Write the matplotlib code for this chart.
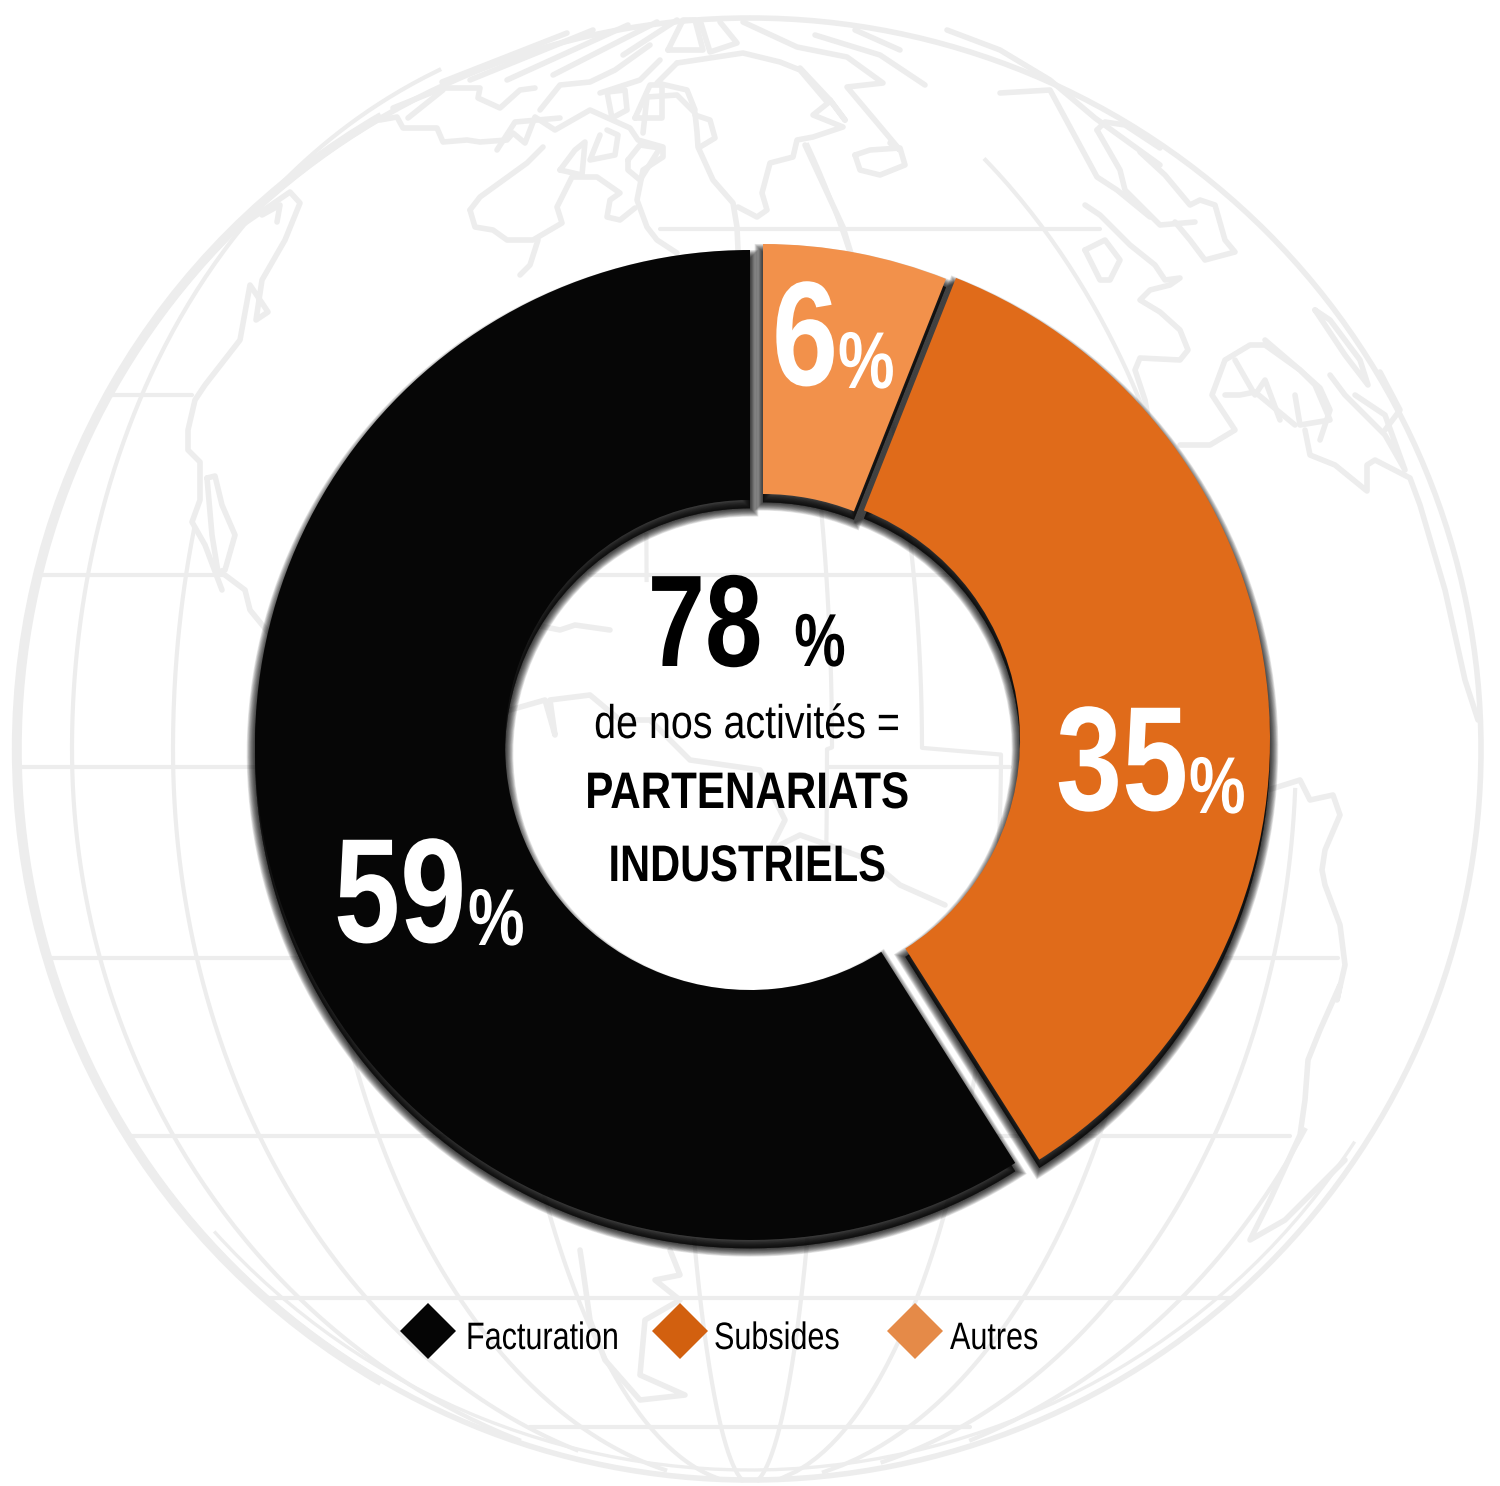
#!/usr/bin/python
import numpy as np
import matplotlib
matplotlib.use('Agg')
import matplotlib.pyplot as plt
import matplotlib.patheffects as pe
from matplotlib.patches import Circle, Arc
from matplotlib.transforms import Affine2D, Bbox

# donut data, clockwise from the top
slices = ['Autres', 'Subsides', 'Facturation']
shares = [6, 35, 59]
slice_colors = ['#F2914B', '#E06B1A', '#060606']
# each slice sits on its own centre, pixel coords
slice_centres = [(763, 741), (773, 740), (750, 745)]
slice_radii = [497, 497, 495]
slice_widths = [250, 250, 250]

legend_names = ['Facturation', 'Subsides', 'Autres']
legend_colors = ['#050505', '#D2600F', '#E58A48']
legend_marker_x = [428, 680, 915]
legend_text_x = [466, 714, 950]

headline = 78
sub_line = 'de nos activités ='
title_lines = ['PARTENARIATS', 'INDUSTRIELS']

GLOBE = '#EDEDED'
FONT = 'Liberation Sans'
W, H = 1500, 1486

# globe graticule: (y, x from, x to)
parallels = [
    (229, 660, 1100), (395, 110, 192), (575, 42, 225), (575, 590, 950),
    (767, 22, 255), (767, 830, 1010), (958, 50, 300), (958, 1225, 1338),
    (1136, 128, 1290), (1298, 268, 1232), (1427, 530, 970),
]
# meridians: half width north, half width south, y from, y to
meridians = [
    (-678, -678, 70, 1440), (-577, -577, 530, 1450), (-437, -437, 950, 1470),
    (-259, -259, 950, 1478), (-103, -75, 535, 580), (-103, -75, 1240, 1480),
    (82, 77, 510, 850), (82, 77, 1240, 1480),
    (172, 251, 145, 1478), (458, 411, 160, 1472), (546, 546, 790, 1462),
    (649, 649, 1130, 1440),
]

coasts = [
    # west coast
    [(232, 232), (290, 192), (300, 203), (285, 240), (262, 280), (256, 320),
     (268, 312), (250, 285), (240, 340), (205, 385), (195, 400), (188, 430),
     (188, 450), (200, 462), (200, 500), (192, 522), (205, 545), (222, 590)],
    [(207, 478), (215, 476), (222, 505), (235, 535), (225, 570), (218, 572),
     (212, 535), (207, 478)],
    [(225, 575), (245, 590), (250, 610), (268, 632)],
    [(262, 215), (280, 205), (277, 222)],
    # northern lace
    [(380, 120), (397, 117), (403, 128), (437, 128), (443, 142), (467, 140),
     (480, 142), (507, 140), (513, 133), (525, 143), (535, 117), (555, 130),
     (590, 110), (630, 128), (638, 140), (663, 147), (663, 157), (643, 170),
     (637, 200), (647, 227), (657, 240), (677, 253)],
    [(470, 210), (480, 197), (527, 163), (543, 147)],
    [(470, 210), (475, 227), (493, 230), (507, 240), (533, 240), (562, 223),
     (557, 207), (572, 177), (597, 177), (620, 193), (610, 200), (607, 217),
     (620, 220), (635, 208)],
    [(538, 240), (530, 265), (520, 275)],
    [(393, 108), (443, 88), (480, 88), (478, 98), (500, 108), (520, 90), (535, 88)],
    [(408, 118), (443, 90)],
    [(442, 82), (567, 33)], [(470, 80), (593, 30)], [(507, 80), (628, 25)],
    [(553, 75), (657, 22)], [(623, 55), (677, 20)],
    [(540, 110), (560, 85), (590, 82), (615, 70), (650, 45)],
    [(600, 93), (640, 80), (660, 60)],
    [(497, 150), (515, 122), (560, 118)],
    [(560, 170), (575, 150), (585, 142), (582, 175), (560, 170)],
    [(607, 130), (618, 135), (615, 155), (590, 160), (600, 135)],
    [(628, 160), (640, 145), (660, 148), (640, 180), (628, 170), (628, 160)],
    [(607, 92), (625, 90), (627, 110), (612, 118), (607, 92)],
    [(635, 118), (650, 85), (662, 85), (662, 118), (635, 118)],
    [(668, 50), (683, 20), (695, 20), (703, 50), (668, 50)],
    [(700, 20), (710, 52), (737, 43), (720, 22)],
    # large island in the north
    [(643, 133), (647, 97), (677, 95), (695, 113), (697, 132), (698, 147),
     (713, 180), (733, 203), (737, 227), (738, 250)],
    [(695, 115), (710, 120), (715, 138), (700, 147)],
    [(677, 63), (657, 83), (687, 90), (695, 110)],
    [(677, 63), (743, 53), (780, 62), (800, 70), (828, 103), (813, 115),
     (843, 127), (813, 137), (797, 140), (793, 157), (770, 163), (762, 193),
     (767, 210), (757, 217), (738, 207)],
    [(743, 22), (797, 47), (847, 57), (883, 83), (847, 87), (900, 150), (890, 143)],
    [(805, 145), (843, 227), (853, 260)],
    [(800, 68), (830, 100), (845, 120), (830, 100)],
    [(815, 35), (880, 55), (925, 85)],
    [(855, 30), (900, 50)],
    [(855, 155), (870, 150), (900, 148), (905, 165), (880, 175), (860, 170), (855, 155)],
    # eastern side
    [(1000, 93), (1050, 90), (1097, 177), (1117, 190), (1150, 217)],
    [(947, 30), (1000, 50), (1050, 80), (1095, 118), (1160, 165)],
    [(1097, 130), (1105, 122), (1125, 125), (1160, 148)],
    [(1097, 130), (1120, 170), (1125, 190), (1150, 215), (1160, 225), (1195, 222)],
    [(1140, 152), (1165, 175), (1190, 205), (1200, 200), (1215, 205), (1225, 240),
     (1235, 252), (1205, 260), (1190, 240), (1175, 222)],
    [(1085, 205), (1100, 215), (1130, 245), (1155, 265), (1165, 280), (1180, 278),
     (1170, 285), (1150, 290), (1140, 300), (1160, 312), (1180, 330), (1188, 350),
     (1180, 360), (1140, 358), (1135, 370), (1145, 400), (1152, 440)],
    [(1085, 250), (1105, 240), (1120, 260), (1110, 280), (1100, 280), (1085, 250)],
    [(1180, 445), (1210, 445), (1235, 430), (1212, 395), (1225, 360), (1250, 345),
     (1265, 345), (1300, 370), (1315, 385), (1330, 420), (1300, 425), (1295, 395)],
    [(1225, 395), (1240, 395), (1255, 392), (1295, 425)],
    [(1235, 360), (1255, 395), (1265, 380), (1280, 420)],
    [(1265, 340), (1300, 370), (1320, 388), (1330, 410), (1320, 440)],
    [(1305, 430), (1310, 455), (1335, 465), (1367, 491), (1367, 465), (1375, 460),
     (1410, 478), (1420, 505), (1445, 590), (1465, 680), (1478, 720)],
    [(1315, 310), (1330, 320), (1360, 360), (1368, 385), (1345, 355), (1315, 310)],
    [(1330, 375), (1345, 395), (1385, 435), (1405, 470), (1385, 415), (1355, 395)],
    [(1385, 430), (1400, 410), (1380, 372)],
    # african coast and the south
    [(1268, 790), (1300, 780), (1310, 800), (1333, 795), (1340, 815), (1325, 850),
     (1322, 870), (1325, 885), (1340, 925), (1345, 965), (1337, 1000), (1340, 985),
     (1320, 1030), (1308, 1060), (1305, 1100), (1300, 1135), (1270, 1200),
     (1250, 1240), (1285, 1220), (1345, 1160)],
    [(670, 1250), (680, 1275), (655, 1280), (680, 1300), (645, 1320), (640, 1375),
     (685, 1395), (640, 1400), (605, 1360), (590, 1320), (583, 1270), (580, 1250)],
    # faint land seen through the hole
    [(510, 640), (535, 625), (560, 630), (575, 625), (610, 630)],
    [(510, 710), (545, 700), (555, 735), (550, 700), (590, 695), (620, 720), (650, 720),
     (690, 760), (760, 770), (785, 820), (770, 850), (800, 835), (870, 860),
     (900, 885), (945, 905)],
]


class Squeeze(pe.AbstractPathEffect):
    # narrows glyphs sideways around a fixed x, no condensed face is available
    def __init__(self, x0, factor):
        super().__init__()
        self.x0 = x0
        self.factor = factor

    def draw_path(self, renderer, gc, tpath, affine, rgbFace=None):
        squeeze = Affine2D().translate(-self.x0, 0).scale(self.factor, 1).translate(self.x0, 0)
        renderer.draw_path(gc, tpath, affine + squeeze, rgbFace)


class SoftShadow(pe.AbstractPathEffect):
    # stack of translucent black outlines shifted downwards
    def __init__(self, drop=6.0, widest=12, alpha=0.10):
        super().__init__()
        self.drop = drop
        self.widest = widest
        self.alpha = alpha

    def draw_path(self, renderer, gc, tpath, affine, rgbFace=None):
        shift = Affine2D().translate(0, -self.drop * renderer.points_to_pixels(1.0))
        for lw in np.arange(self.widest, 0, -1.0):
            gc0 = renderer.new_gc()
            gc0.copy_properties(gc)
            gc0.set_linewidth(lw)
            gc0.set_foreground('black')
            gc0.set_alpha(self.alpha)
            renderer.draw_path(gc0, tpath, affine + shift, (0, 0, 0))
            gc0.restore()


def meridian_path(a_north, a_south, y0, y1):
    # x position along a meridian, the north pole sits a little left of centre
    y = np.linspace(y0, y1, 200)
    t = (y - 749.0) / 735.0
    half = np.sqrt(np.clip(1 - t * t, 0, 1))
    shift = np.where(t < 0, -60 * t * t, 0)
    a = np.where(t < 0, a_north, a_south)
    return 750 + shift + a * half, y


def pixel_axes(fig, flip, zorder):
    ax = fig.add_axes([0, 0, 1, 1], zorder=zorder)
    ax.set_xlim(0, W)
    ax.set_ylim((H, 0) if flip else (0, H))
    ax.axis('off')
    ax.patch.set_alpha(0)
    return ax


def narrow_text(ax, x, y, s, factor, **kw):
    t = ax.text(x, y, s, family=FONT, va='baseline',
                path_effects=[Squeeze(x, factor)], **kw)
    # the reported extent has to follow the narrowed glyphs
    full_extent = t.get_window_extent

    def narrow_extent(renderer=None, dpi=None):
        bb = full_extent(renderer, dpi)
        return Bbox.from_extents(x + (bb.x0 - x) * factor, bb.y0,
                                 x + (bb.x1 - x) * factor, bb.y1)
    t.get_window_extent = narrow_extent
    return t


def main():
    fig = plt.figure(figsize=(15, 14.86), dpi=100, facecolor='white')

    # background globe
    bg = pixel_axes(fig, True, 1)
    bg.add_patch(Circle((750, 749), 731, fill=False, ec=GLOBE, lw=4.0))
    bg.add_patch(Arc((747, 749), 2 * 731, 2 * 731, theta1=120, theta2=240, ec=GLOBE, lw=6.0))
    bg.add_patch(Arc((750, 749), 2 * 721, 2 * 721, theta1=33, theta2=138, ec=GLOBE, lw=2.4))
    for y, x0, x1 in parallels:
        bg.plot([x0, x1], [y, y], color=GLOBE, lw=3.0, solid_capstyle='round')
    for a_n, a_s, y0, y1 in meridians:
        mx, my = meridian_path(a_n, a_s, y0, y1)
        bg.plot(mx, my, color=GLOBE, lw=3.0)
    for line in coasts:
        pts = np.array(line)
        bg.plot(pts[:, 0], pts[:, 1], color=GLOBE, lw=4.0,
                solid_capstyle='round', solid_joinstyle='round')

    # donut, every wedge with a soft drop shadow
    ax = pixel_axes(fig, False, 2)
    wedges, _ = ax.pie(shares, colors=slice_colors, radius=497, startangle=90,
                       counterclock=False, wedgeprops={'width': 250, 'linewidth': 0})
    ax.set_xlim(0, W)
    ax.set_ylim(0, H)
    for wedge, (cx, cy), rad, wid in zip(wedges, slice_centres, slice_radii, slice_widths):
        wedge.set_center((cx, H - cy))
        wedge.set_radius(rad)
        wedge.set_width(wid)
        wedge.set_path_effects([SoftShadow(), pe.Normal()])

    # labels on top
    top = pixel_axes(fig, True, 3)
    value_pos = {'Autres': (772, 385, 838), 'Subsides': (1056, 810, 1189),
                 'Facturation': (334, 942, 468)}
    for name, share in zip(slices, shares):
        x, y, xp = value_pos[name]
        narrow_text(top, x, y, str(share), 0.80, color='white', fontsize=107,
                    fontweight='bold', ha='left')
        narrow_text(top, xp, y + 3, '%', 0.79, color='white', fontsize=58,
                    fontweight='bold', ha='left')

    narrow_text(top, 705, 666, str(headline), 0.79, color='black', fontsize=94,
                fontweight='bold', ha='center')
    narrow_text(top, 820, 666, '%', 0.77, color='black', fontsize=54,
                fontweight='bold', ha='center')
    narrow_text(top, 747, 738, sub_line, 0.835, color='black', fontsize=34, ha='center')
    narrow_text(top, 747, 808, title_lines[0], 0.82, color='black', fontsize=37,
                fontweight='bold', ha='center')
    narrow_text(top, 747, 881, title_lines[1], 0.81, color='black', fontsize=37,
                fontweight='bold', ha='center')

    # legend is laid out by hand, the gaps are not even
    for name, col, mx, tx in zip(legend_names, legend_colors, legend_marker_x, legend_text_x):
        top.plot([mx], [1331], marker='D', ms=28.5, color=col, mew=0, ls='none')
        narrow_text(top, tx, 1349, name, 0.80, color='black', fontsize=27.5, ha='left')

    fig.savefig('out.png', dpi=100, facecolor='white')


if __name__ == "__main__":
    main()
